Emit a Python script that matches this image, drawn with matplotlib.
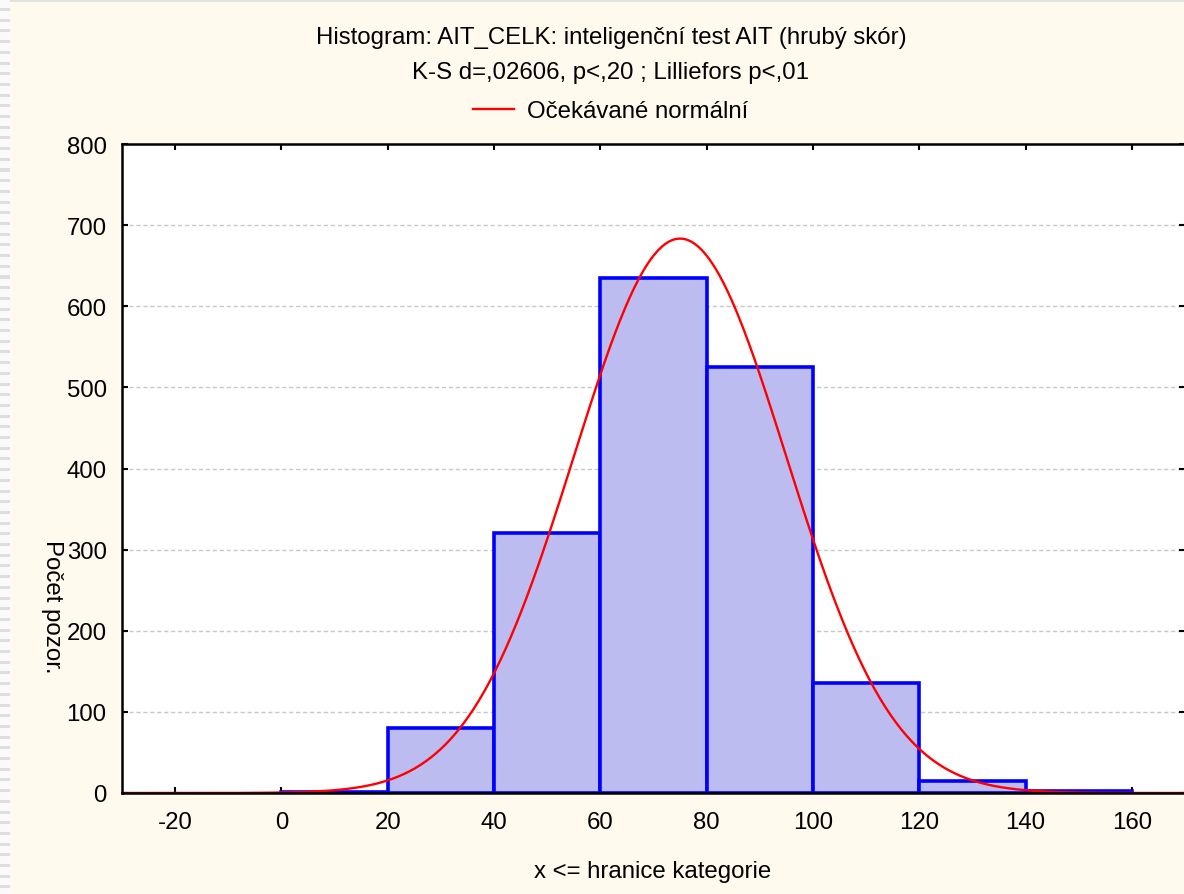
import numpy as np
import matplotlib
matplotlib.use("Agg")
import matplotlib.pyplot as plt
from matplotlib.patches import Rectangle
from matplotlib.lines import Line2D

# ---- data ----
bin_edges = [0, 20, 40, 60, 80, 100, 120, 140, 160]
counts = [1, 80, 320, 635, 525, 135, 15, 2]
norm_mean = 75.0
norm_sd = 20.0
x_ticks = [-20, 0, 20, 40, 60, 80, 100, 120, 140, 160]
y_ticks = [0, 100, 200, 300, 400, 500, 600, 700, 800]

title1 = "Histogram: AIT_CELK: inteligenční test AIT (hrubý skór)"
title2 = "K-S d=,02606, p<,20 ; Lilliefors p<,01"
legend_label = "Očekávané normální"
xlabel = "x <= hranice kategorie"
ylabel = "Počet pozor."

plt.rcParams['font.family'] = ['Liberation Sans', 'DejaVu Sans']
plt.rcParams['axes.unicode_minus'] = False
FS = 17.3

W, H = 1184, 895
fig = plt.figure(figsize=(W / 100, H / 100), dpi=100, facecolor='#FFF9EE')

# decorative frame: top gray strip and left striped strip
fig.patches.append(Rectangle((0, 1 - 3 / H), 1, 3 / H, transform=fig.transFigure,
                             facecolor='#E2E2E2', edgecolor='none', zorder=0))
fig.patches.append(Rectangle((0, 0), 10 / W, 1, transform=fig.transFigure,
                             facecolor='#FAFAFA', edgecolor='none', zorder=0))
for yy in np.arange(9, H, 10.7):
    fig.patches.append(Rectangle((0, 1 - (yy + 3) / H), 10 / W, 3 / H, transform=fig.transFigure,
                                 facecolor='#DEDEDE', edgecolor='none', zorder=0))

ax = fig.add_axes([122 / W, 1 - 794 / H, (1185 - 122) / W, (794 - 145) / H])
ax.set_facecolor('white')

widths = np.diff(bin_edges)
ax.bar(bin_edges[:-1], counts, width=widths, align='edge', color='#BCBCF0',
       edgecolor='#0000FF', linewidth=2.6, zorder=2)

N = sum(counts)
bw = widths[0]
xs = np.linspace(-30, 170, 600)
ys = N * bw / (norm_sd * np.sqrt(2 * np.pi)) * np.exp(-0.5 * ((xs - norm_mean) / norm_sd) ** 2)
ax.plot(xs, ys, color='#FF0000', linewidth=1.7, zorder=3)

ax.set_xlim(-30, 170)
ax.set_ylim(0, 800)
ax.set_xticks(x_ticks)
ax.set_yticks(y_ticks)
ax.tick_params(direction='in', length=4, width=1.5, top=True, right=True,
               labelsize=FS, colors='black')
ax.tick_params(axis='y', pad=11)
ax.tick_params(axis='x', pad=13)
for sp in ax.spines.values():
    sp.set_linewidth(1.8)
    sp.set_color('black')
    sp.set_zorder(4)
ax.yaxis.grid(True, linestyle=(0, (3, 2)), color='#C8C8C8', linewidth=1.0, zorder=1)
ax.set_axisbelow(True)

fig.text(611 / W, 1 - 38 / H, title1, ha='center', va='center', fontsize=FS)
fig.text(611 / W, 1 - 73 / H, title2, ha='center', va='center', fontsize=FS)
leg_handle = Line2D([], [], color='#FF0000', linewidth=1.7)
fig.legend([leg_handle], [legend_label], loc='center', bbox_to_anchor=(611 / W, 1 - 112 / H),
           frameon=False, fontsize=FS, handlelength=1.7, handletextpad=0.55)

fig.text(653 / W, 1 - 872 / H, xlabel, ha='center', va='center', fontsize=FS)
fig.text(52 / W, 1 - 607 / H, ylabel, ha='center', va='center', fontsize=FS, rotation=270)

fig.savefig('out.png', dpi=100, facecolor=fig.get_facecolor())
